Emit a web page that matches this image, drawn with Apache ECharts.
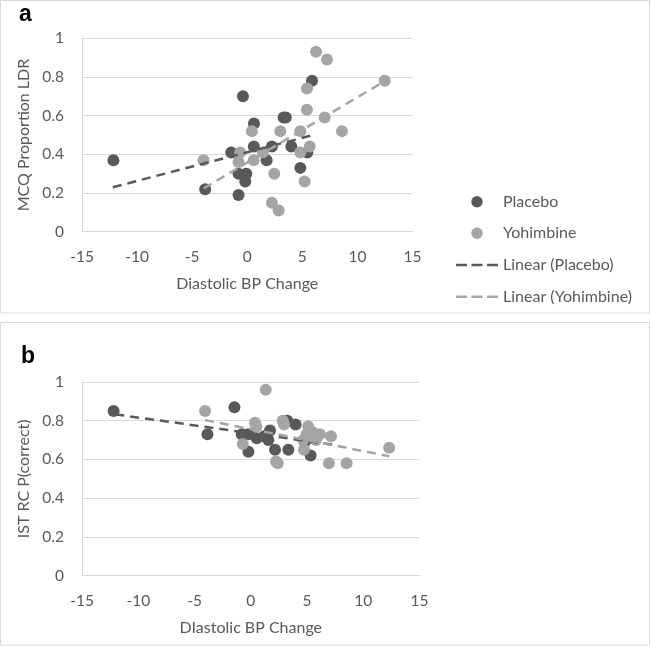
<!DOCTYPE html>
<html>
<head>
<meta charset="utf-8">
<script src="https://cdn.jsdelivr.net/npm/echarts@6/dist/echarts.min.js"></script>
<style>
html,body{margin:0;padding:0;background:#fff;}
#c{width:651px;height:646px;}
</style>
</head>
<body>
<div id="c"></div>
<script>
// ---- Data ----
const seriesNames = ['Placebo', 'Yohimbine', 'Linear (Placebo)', 'Linear (Yohimbine)'];
const xTicks = [-15, -10, -5, 0, 5, 10, 15];
const yTicks = [0, 0.2, 0.4, 0.6, 0.8, 1];

// Panel a: MCQ Proportion LDR vs Diastolic BP change
const placeboA = [
  [-12.15,0.37],[-3.82,0.22],[-1.45,0.41],[-0.79,0.30],[-0.79,0.19],[-0.39,0.70],
  [-0.18,0.26],[-0.09,0.30],[0.6,0.44],[0.61,0.56],[1.76,0.37],[2.24,0.44],
  [3.3,0.59],[3.5,0.59],[4.0,0.44],[4.82,0.33],[5.45,0.41],[5.88,0.78]
];
const yohimbineA = [
  [6.24,0.93],[7.24,0.89],[12.48,0.78],[5.42,0.74],[5.42,0.63],[7.03,0.59],
  [8.6,0.52],[0.42,0.52],[3.0,0.52],[4.82,0.52],[5.67,0.44],[4.82,0.41],
  [1.42,0.41],[-0.64,0.41],[-3.97,0.37],[-0.79,0.36],[0.58,0.37],[2.45,0.30],
  [5.21,0.26],[2.24,0.15],[2.85,0.11]
];
const trendPlaceboA = [[-12.2,0.23],[6.0,0.50]];
const trendYohimbineA = [[-3.95,0.224],[12.4,0.776]];

// Panel b: IST RC P(correct) vs Diastolic BP change
const placeboB = [
  [-12.19,0.85],[-3.85,0.73],[-1.45,0.87],[-0.8,0.73],[-0.21,0.73],[-0.21,0.64],
  [0.53,0.71],[1.56,0.70],[1.71,0.75],[1.2,0.72],[2.16,0.65],[3.25,0.80],
  [3.99,0.78],[3.34,0.65],[5.32,0.62],[4.8,0.69],[5.6,0.71]
];
const yohimbineB = [
  [-4.06,0.85],[1.33,0.96],[0.38,0.79],[0.5,0.77],[-0.71,0.68],[2.84,0.80],
  [2.96,0.78],[5.11,0.77],[4.97,0.73],[4.67,0.70],[4.73,0.65],[2.24,0.59],
  [2.4,0.58],[6.15,0.73],[7.13,0.72],[6.95,0.58],[8.52,0.58],[12.3,0.66],
  [5.5,0.74],[5.8,0.70],[5.3,0.72]
];
const trendPlaceboB = [[-12.04,0.833],[7.6,0.674]];
const trendYohimbineB = [[-4.06,0.803],[12.3,0.617]];

// ---- Styles ----
const DARK = '#595959', LIGHT = '#a5a5a5', GRID = '#d9d9d9', TXT = '#595959';
const FONT = 'Lato, "Open Sans", sans-serif';
const DASH = [9, 6];
const DASH_ICON = 'path://M0,0h11v2.6h-11z M15.5,0h11v2.6h-11z M31,0h11v2.6h-11z';
// circle of diameter 11.5 centred in a 42-wide box (end points only set the box)
const DOT_ICON = 'path://M0,0L0,0 M42,11.5L42,11.5 M15.25,5.75a5.75,5.75 0 1,0 11.5,0a5.75,5.75 0 1,0 -11.5,0z';

function xAxisDef(gridIndex, name) {
  return {
    type: 'value', gridIndex, min: xTicks[0], max: xTicks[xTicks.length-1], interval: 5,
    name, nameLocation: 'middle', nameGap: 44,
    nameTextStyle: {color: TXT, fontSize: 16, fontFamily: FONT},
    axisLine: {show: true, onZero: false, lineStyle: {color: GRID, width: 1}},
    axisTick: {show: false},
    splitLine: {show: false},
    axisLabel: {color: TXT, fontSize: 15.5, fontFamily: FONT, margin: 17}
  };
}
function yAxisDef(gridIndex, name) {
  return {
    type: 'value', gridIndex, min: yTicks[0], max: yTicks[yTicks.length-1], interval: 0.2,
    name, nameLocation: 'middle', nameGap: 48,
    nameTextStyle: {color: TXT, fontSize: 16, fontFamily: FONT},
    axisLine: {show: true, onZero: false, lineStyle: {color: GRID, width: 1}},
    axisTick: {show: false},
    splitLine: {show: true, lineStyle: {color: GRID, width: 1}},
    axisLabel: {color: TXT, fontSize: 15.5, fontFamily: FONT, margin: 18}
  };
}
function scatter(name, data, idx, color) {
  return {name, type: 'scatter', xAxisIndex: idx, yAxisIndex: idx, data,
    symbolSize: 12, itemStyle: {color, opacity: 1}, z: 2, silent: true};
}
function trend(name, data, idx, color) {
  return {name, type: 'line', xAxisIndex: idx, yAxisIndex: idx, data,
    symbol: 'none', showSymbol: false, z: 3, silent: true,
    lineStyle: {color, width: 2.5, type: DASH}, itemStyle: {color}};
}
const legendText = {color: TXT, fontSize: 16, fontFamily: FONT, lineHeight: 16};

const chart = echarts.init(document.getElementById('c'), null, {renderer: 'canvas'});
chart.setOption({
  animation: false,
  backgroundColor: '#fff',
  grid: [
    {left: 82, top: 38.3, width: 330.5, height: 193.4, containLabel: false},
    {left: 82, top: 382, width: 337.5, height: 193.6, containLabel: false}
  ],
  xAxis: [xAxisDef(0, 'Diastolic BP Change'), xAxisDef(1, 'DIastolic BP Change')],
  yAxis: [yAxisDef(0, 'MCQ Proportion LDR'), yAxisDef(1, 'IST RC P(correct)')],
  legend: [
    {
      orient: 'vertical', left: 456, top: 193.7, padding: 0,
      itemWidth: 42, itemHeight: 11.5, itemGap: 15.5,
      textStyle: legendText,
      data: [{name: seriesNames[0], icon: DOT_ICON}, {name: seriesNames[1], icon: DOT_ICON}],
      selectedMode: false
    },
    {
      orient: 'vertical', left: 456, top: 257, padding: 0,
      itemWidth: 42, itemHeight: 2.6, itemGap: 15.7,
      textStyle: legendText,
      data: [{name: seriesNames[2], icon: DASH_ICON}, {name: seriesNames[3], icon: DASH_ICON}],
      selectedMode: false
    }
  ],
  graphic: [
    {type: 'rect', shape: {x: 0.5, y: 0.5, width: 649, height: 312.5},
     style: {fill: null, stroke: GRID, lineWidth: 1}, z: -1},
    {type: 'rect', shape: {x: 0.5, y: 322.5, width: 649, height: 322.5},
     style: {fill: null, stroke: GRID, lineWidth: 1}, z: -1},
    {type: 'text', left: 19, top: 3, style: {text: 'a', fontSize: 23, fontWeight: 'bold',
     fontFamily: '"Liberation Sans", Arial, sans-serif', fill: '#000'}},
    {type: 'text', left: 21, top: 345, style: {text: 'b', fontSize: 23, fontWeight: 'bold',
     fontFamily: '"Liberation Sans", Arial, sans-serif', fill: '#000'}}
  ],
  series: [
    scatter(seriesNames[0], placeboA, 0, DARK),
    scatter(seriesNames[1], yohimbineA, 0, LIGHT),
    trend(seriesNames[2], trendPlaceboA, 0, DARK),
    trend(seriesNames[3], trendYohimbineA, 0, LIGHT),
    scatter(seriesNames[0], placeboB, 1, DARK),
    scatter(seriesNames[1], yohimbineB, 1, LIGHT),
    trend(seriesNames[2], trendPlaceboB, 1, DARK),
    trend(seriesNames[3], trendYohimbineB, 1, LIGHT)
  ]
});
</script>
</body>
</html>
